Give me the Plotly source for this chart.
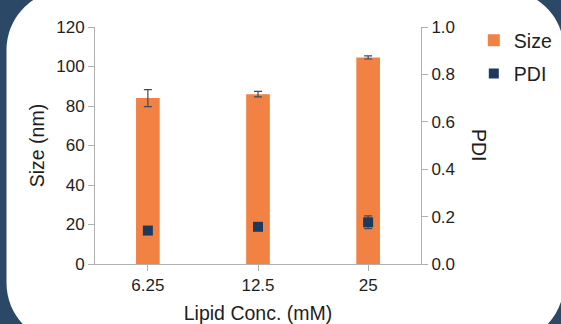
import plotly.graph_objects as go

# Particle size and polydispersity vs. lipid concentration
concentrations = ["6.25", "12.5", "25"]
size_nm = [84.0, 86.0, 104.6]
size_err = [4.3, 1.4, 0.8]
pdi = [0.141, 0.157, 0.176]
pdi_err = [0.010, 0.010, 0.027]

size_ticks = [0, 20, 40, 60, 80, 100, 120]
pdi_ticks = [0.0, 0.2, 0.4, 0.6, 0.8, 1.0]

ORANGE = "#f28244"
NAVY = "#1d3a5e"
AXIS_GREY = "#b0b0b0"
TEXT = "#1e1e1e"
FONT = "Liberation Sans, Arial, sans-serif"
BG_NAVY = "#2c4867"

W, H = 561, 324
ML, MR, MT, MB = 95, 140, 27, 60
PW, PH = W - ML - MR, H - MT - MB


def px_to_paper(x, y):
    return (x - ML) / PW, (H - MB - y) / PH


def rounded_panel(x0, y0, x1, y1, r):
    """SVG path (paper units) of a rounded rectangle given in pixels."""
    k = 0.5523 * r
    pts = [
        ("M", [(x0 + r, y0)]),
        ("L", [(x1 - r, y0)]),
        ("C", [(x1 - r + k, y0), (x1, y0 + r - k), (x1, y0 + r)]),
        ("L", [(x1, y1 - r)]),
        ("C", [(x1, y1 - r + k), (x1 - r + k, y1), (x1 - r, y1)]),
        ("L", [(x0 + r, y1)]),
        ("C", [(x0 + r - k, y1), (x0, y1 - r + k), (x0, y1 - r)]),
        ("L", [(x0, y0 + r)]),
        ("C", [(x0, y0 + r - k), (x0 + r - k, y0), (x0 + r, y0)]),
    ]
    out = []
    for cmd, coords in pts:
        conv = " ".join("%.5f,%.5f" % px_to_paper(cx, cy) for cx, cy in coords)
        out.append(cmd + conv)
    return " ".join(out) + " Z"


fig = go.Figure()

fig.add_trace(go.Bar(
    x=concentrations, y=size_nm, name="Size", legendgroup="size",
    marker=dict(color=ORANGE, line=dict(width=0)),
    width=0.215,
    error_y=dict(type="data", array=size_err, visible=True,
                 color="#3d4b5c", thickness=1.2, width=4),
    yaxis="y",
))

fig.add_trace(go.Scatter(
    x=concentrations, y=pdi, name="PDI", mode="markers", legendgroup="pdi",
    marker=dict(symbol="square", size=10, color=NAVY),
    error_y=dict(type="data", array=pdi_err, visible=True,
                 color="#3d4b5c", thickness=1.2, width=4),
    yaxis="y2",
))

axis_common = dict(
    showline=True, linecolor=AXIS_GREY, linewidth=1,
    ticks="outside", ticklen=6, tickcolor=AXIS_GREY, tickwidth=1,
    showgrid=False, zeroline=False, automargin=False,
    tickfont=dict(family=FONT, size=17, color=TEXT),
)

fig.update_layout(
    width=W, height=H,
    margin=dict(l=ML, r=MR, t=MT, b=MB, pad=0, autoexpand=False),
    paper_bgcolor=BG_NAVY,
    plot_bgcolor="rgba(0,0,0,0)",
    font=dict(family=FONT, color=TEXT),
    xaxis=dict(
        **axis_common,
        type="category", range=[-0.48, 2.48],
        title=dict(text="Lipid Conc. (mM)", font=dict(family=FONT, size=19.5, color=TEXT), standoff=11),
    ),
    yaxis=dict(
        **axis_common,
        range=[0, 120], tickvals=size_ticks,
        title=dict(text="Size (nm)", font=dict(family=FONT, size=19.5, color=TEXT), standoff=6),
    ),
    yaxis2=dict(
        **axis_common,
        overlaying="y", side="right", anchor="x",
        range=[0, 1.0], tickvals=pdi_ticks, tickformat=".1f",
    ),
    legend=dict(
        x=1.162, y=1.025, xanchor="left", yanchor="top",
        bgcolor="rgba(0,0,0,0)", tracegroupgap=5,
        font=dict(family=FONT, size=19.5, color=TEXT),
    ),
    showlegend=True,
    shapes=[dict(
        type="path", xref="paper", yref="paper", layer="below",
        path=rounded_panel(6.5, -10, 564, 343, 60),
        fillcolor="white", line=dict(width=0),
    )],
    annotations=[dict(
        text="PDI", xref="paper", yref="paper",
        x=px_to_paper(479, 145)[0], y=px_to_paper(479, 145)[1],
        xanchor="center", yanchor="middle", textangle=90, showarrow=False,
        font=dict(family=FONT, size=19.5, color=TEXT),
    )],
)

fig.write_html("out.html")
